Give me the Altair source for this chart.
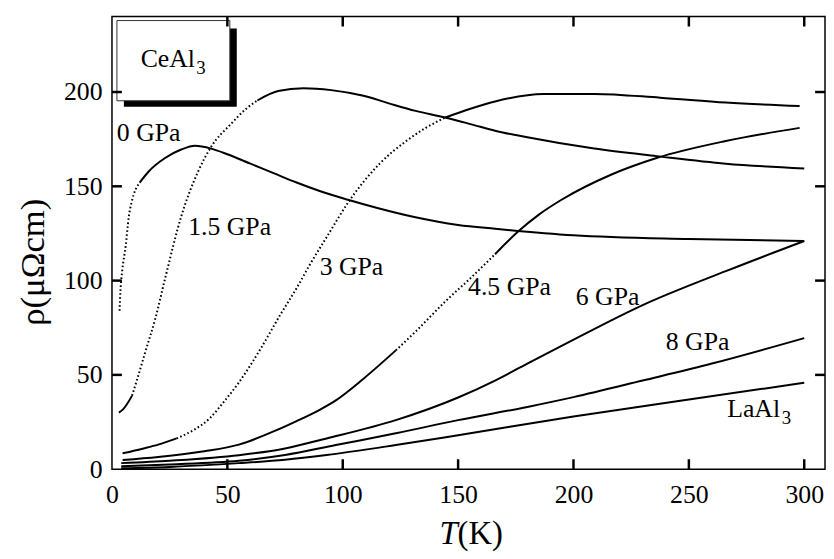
import altair as alt
import pandas as pd

# ---------------- data ----------------
series_names = ["0 GPa", "1.5 GPa", "3 GPa", "4.5 GPa", "6 GPa", "8 GPa", "LaAl3"]

T_0 = [3.3, 3.6, 4.0, 4.5, 5.9, 7.3, 8.6, 12, 16, 23, 30, 36, 43, 50, 60, 70, 80, 90,
       103, 115, 131, 150, 166, 200, 250, 300]
rho_0 = [84, 93, 100, 106, 118, 134, 142, 152, 158, 165, 169.5, 171.5, 170, 167, 162,
         157, 152, 147.5, 142.6, 138.5, 133.7, 129.5, 127.5, 124, 122, 121]

T_15 = [3, 5, 8.7, 11, 14.4, 18.7, 23, 30, 37, 43, 51.5, 58, 63, 72, 83, 95, 109, 120,
        131.6, 144.5, 156.6, 166, 180, 209, 236, 266, 300]
rho_15 = [30, 32, 39, 48, 62, 79.5, 101, 134, 157, 171, 183, 191, 195.5, 200.5, 202, 201,
          198, 194, 190, 186.5, 182.6, 179.5, 176, 170, 166, 162, 159.5]

T_3 = [4.6, 13.7, 20, 28, 35, 42.4, 48, 55, 64, 73, 80, 86, 93, 103, 116, 127.5,
       136, 144.5, 155, 166, 187, 209, 237.5, 266, 298]
rho_3 = [8.4, 11, 13, 16.3, 20.5, 27, 35, 46, 63, 82, 96, 109, 123, 142.6, 162, 174,
         181, 186.5, 191, 195, 199, 199, 197, 194.4, 192.6]

T_45 = [4.6, 20, 40, 55, 70, 80, 90, 97, 109, 123, 131.6, 144.5, 156, 166, 176, 185,
        195, 216, 236, 266, 298]
rho_45 = [4.9, 6.5, 9.5, 13, 20, 25.5, 31.5, 36.5, 48, 63, 73, 89, 102, 114, 126, 135,
          143, 156, 165, 174, 181]

T_6 = [4, 25, 55, 75, 93, 123, 150, 166, 180, 199, 230, 266, 300]
rho_6 = [3.2, 4.5, 7.4, 11, 16.3, 26, 38, 47, 56, 68, 87, 105, 121]

T_8 = [4, 25, 55, 75, 97, 123, 150, 180, 200, 230, 260, 300]
rho_8 = [1.5, 2.5, 4.5, 7.5, 12.8, 19, 26, 33, 38.2, 47, 56, 69.5]

T_La = [4, 25, 55, 75, 93, 123, 150, 200, 250, 300]
rho_La = [0.5, 1.2, 3.2, 5, 7.5, 12.8, 18, 27.9, 37, 45.8]

series_T = [T_0, T_15, T_3, T_45, T_6, T_8, T_La]
series_rho = [rho_0, rho_15, rho_3, rho_45, rho_6, rho_8, rho_La]

# temperature ranges drawn dotted (sparse data points in the original)
dotted_ranges = {"0 GPa": (0, 8.6), "1.5 GPa": (8.7, 58), "3 GPa": (28, 136),
                 "4.5 GPa": (123, 156)}

# curve labels
label_text = ["0 GPa", "1.5 GPa", "3 GPa", "4.5 GPa", "6 GPa", "8 GPa", "LaAl"]
label_T = [2.1, 33, 90, 154.3, 201, 240, 266.6]
label_rho = [178.4, 128.4, 107.4, 96.3, 91, 67.4, 32]

x_ticks = [0, 50, 100, 150, 200, 250, 300]
y_ticks = [0, 50, 100, 150, 200]

# ---------------- build table ----------------
rows = []
for name, Ts, rs in zip(series_names, series_T, series_rho):
    rng = dotted_ranges.get(name)
    kinds = ["dot" if (rng and rng[0] <= t <= rng[1]) else "solid" for t in Ts]
    seg = 0
    for i, (t, r) in enumerate(zip(Ts, rs)):
        if i > 0 and kinds[i] != kinds[i - 1]:
            rows.append(dict(series=name, T=t, rho=r, kind=kinds[i - 1], seg=f"{name}|{seg}"))
            seg += 1
        rows.append(dict(series=name, T=t, rho=r, kind=kinds[i], seg=f"{name}|{seg}"))
df = pd.DataFrame(rows)

W, H = 720, 457
FONT = "Liberation Serif"
X_MAX, Y_MAX = 309, 240
xs = alt.Scale(domain=[0, X_MAX], nice=False, zero=False)
ys = alt.Scale(domain=[0, Y_MAX], nice=False, zero=False)

x_enc = alt.X("T:Q", scale=xs,
              axis=alt.Axis(values=x_ticks, title=None, grid=False, ticks=False, domain=False,
                            labelFont=FONT, labelFontSize=26, labelColor="black",
                            labelPadding=13, labelFlush=False, labelOverlap=False))
y_enc = alt.Y("rho:Q", scale=ys,
              axis=alt.Axis(values=y_ticks, title=None, grid=False, ticks=False, domain=False,
                            labelFont=FONT, labelFontSize=26, labelColor="black",
                            labelPadding=10, labelOverlap=False))

solid = alt.Chart(df[df.kind == "solid"]).mark_line(
    color="black", strokeWidth=2, interpolate="monotone"
).encode(x=x_enc, y=y_enc, detail="seg:N", order="T:Q")

dotted = alt.Chart(df[df.kind == "dot"]).mark_line(
    color="black", strokeWidth=2, interpolate="monotone", strokeDash=[1.6, 2.4]
).encode(x=alt.X("T:Q", scale=xs), y=alt.Y("rho:Q", scale=ys), detail="seg:N", order="T:Q")

lab_df = pd.DataFrame({"text": label_text, "T": label_T, "rho": label_rho})
labels = alt.Chart(lab_df).mark_text(
    align="left", baseline="middle", font=FONT, fontSize=26, color="black"
).encode(x=alt.X("T:Q", scale=xs), y=alt.Y("rho:Q", scale=ys), text="text:N")

sub_df = lab_df[lab_df.text == "LaAl"].assign(sub="3")
la_sub = alt.Chart(sub_df).mark_text(
    align="left", baseline="middle", font=FONT, fontSize=19, color="black", dx=55, dy=9
).encode(x=alt.X("T:Q", scale=xs), y=alt.Y("rho:Q", scale=ys), text="sub:N")

# inward ticks on all four sides, drawn as two-point line segments
ty = 10 / H * Y_MAX     # tick length, px -> rho units
tx = 10 / W * X_MAX     # tick length, px -> T units
tick_rows = []
for v in x_ticks[1:]:
    tick_rows += [dict(id=f"b{v}", T=v, rho=0), dict(id=f"b{v}", T=v, rho=ty),
                  dict(id=f"t{v}", T=v, rho=Y_MAX), dict(id=f"t{v}", T=v, rho=Y_MAX - ty)]
for v in y_ticks[1:]:
    tick_rows += [dict(id=f"l{v}", T=0, rho=v), dict(id=f"l{v}", T=tx, rho=v),
                  dict(id=f"r{v}", T=X_MAX, rho=v), dict(id=f"r{v}", T=X_MAX - tx, rho=v)]
ticks = alt.Chart(pd.DataFrame(tick_rows)).mark_line(
    color="#000000", strokeWidth=2.5
).encode(x=alt.X("T:Q", scale=xs), y=alt.Y("rho:Q", scale=ys), detail="id:N")

one = pd.DataFrame({"a": [0]})
shadow = alt.Chart(one).mark_rect(color="black").encode(
    x=alt.value(12), x2=alt.value(126), y=alt.value(12), y2=alt.value(91))
box = alt.Chart(one).mark_rect(fill="white", stroke="#333", strokeWidth=1).encode(
    x=alt.value(5), x2=alt.value(119), y=alt.value(4), y2=alt.value(85))
box_txt = alt.Chart(one).mark_text(
    align="left", baseline="middle", font=FONT, fontSize=26, color="black"
).encode(x=alt.value(29), y=alt.value(43), text=alt.value("CeAl"))
box_sub = alt.Chart(one).mark_text(
    align="left", baseline="middle", font=FONT, fontSize=19, color="black"
).encode(x=alt.value(85), y=alt.value(52), text=alt.value("3"))

ytitle = alt.Chart(one).mark_text(
    align="center", baseline="middle", font=FONT, fontSize=35, color="black", angle=270
).encode(x=alt.value(-80), y=alt.value(248), text=alt.value("ρ(μΩcm)"))
xtitle_T = alt.Chart(one).mark_text(
    align="right", baseline="alphabetic", font=FONT, fontSize=33, fontStyle="italic",
    color="black"
).encode(x=alt.value(349), y=alt.value(533), text=alt.value("T"))
xtitle_K = alt.Chart(one).mark_text(
    align="left", baseline="alphabetic", font=FONT, fontSize=33, color="black"
).encode(x=alt.value(349), y=alt.value(533), text=alt.value("(K)"))

chart = alt.layer(
    solid, dotted, labels, la_sub,
    shadow, box, box_txt, box_sub, ytitle, xtitle_T, xtitle_K, ticks
).properties(
    width=W, height=H,
    background="white",
    autosize=alt.AutoSizeParams(type="none"),
    padding={"left": 105, "top": 6, "right": 1, "bottom": 85},
).configure_view(stroke="black", strokeWidth=1.5)

chart.save("out.html", embed_options={"renderer": "svg", "actions": False})
